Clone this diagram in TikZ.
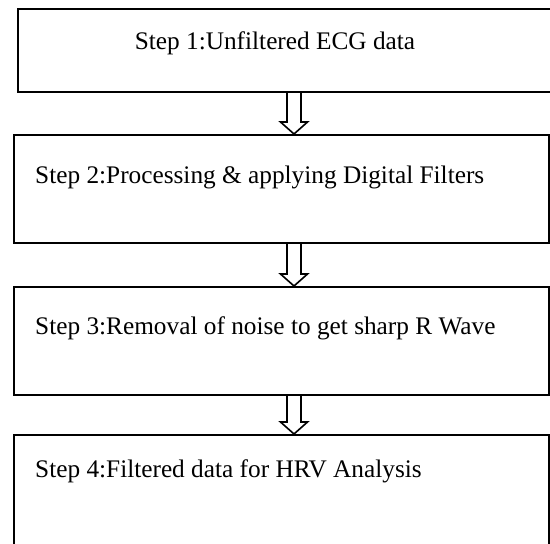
\documentclass[tikz,border=0pt]{standalone}
\usepackage{fontspec}
\setmainfont{Liberation Serif}
\usetikzlibrary{calc}
\begin{document}
\begin{tikzpicture}[x=1pt,y=-1pt,
  stepbox/.style={draw=black, line width=2pt, rectangle, inner sep=0pt},
  steptext/.style={inner sep=0pt, font=\fontsize{25.3}{30}\selectfont},
  blockarrow/.style={draw=black, line width=1.6pt, fill=white, line join=miter}]
  \useasboundingbox (0,0) rectangle (550,544);
  \clip (0,0) rectangle (550,544);
  % boxes
  \node[stepbox, minimum width=542pt, minimum height=83pt]  (b1) at (289,50.5) {};
  \node[stepbox, minimum width=535pt, minimum height=108pt] (b2) at (281.5,189) {};
  \node[stepbox, minimum width=535pt, minimum height=108pt] (b3) at (281.5,341) {};
  \node[stepbox, minimum width=535pt, minimum height=125pt] (b4) at (281.5,497.5) {};
  % labels
  \node[steptext, anchor=base] (t1) at (275,49) {Step 1:Unfiltered ECG data};
  \node[steptext, anchor=base west] (t2) at (35,183) {Step 2:Processing \& applying Digital Filters};
  \node[steptext, anchor=base west] (t3) at (35,334) {Step 3:Removal of noise to get sharp R Wave};
  \node[steptext, anchor=base west] (t4) at (35,477) {Step 4:Filtered data for HRV Analysis};
  % hollow block arrows between the boxes
  \coordinate (ax) at (294,0);
  \foreach \a/\b in {b1/b2, b2/b3, b3/b4}{
    \draw[blockarrow] let \p1=(\a.south -| ax), \p2=(\b.north -| ax) in
      (\x1-7pt,\y1) -- (\x1-7pt,\y2+12pt) -- (\x1-13.5pt,\y2+12pt) -- (\x2,\y2)
      -- (\x1+13.5pt,\y2+12pt) -- (\x1+7pt,\y2+12pt) -- (\x1+7pt,\y1);
  }
\end{tikzpicture}
\end{document}
